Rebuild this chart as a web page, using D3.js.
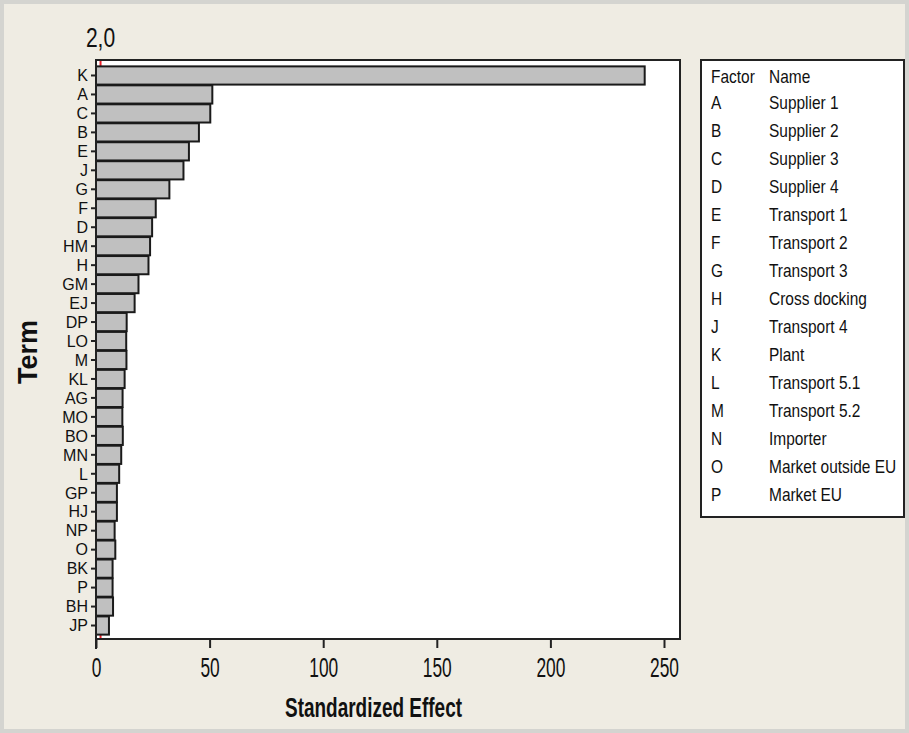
<!DOCTYPE html>
<html>
<head>
<meta charset="utf-8">
<script src="https://cdn.jsdelivr.net/npm/d3@7"></script>
<style>
  body { margin: 0; background: #efece3; }
  svg { display: block; font-family: "Liberation Sans", Arial, sans-serif; }
</style>
</head>
<body>
<div class="container"></div>
<script>
const terms = ["K","A","C","B","E","J","G","F","D","HM","H","GM","EJ","DP","LO","M","KL","AG","MO","BO","MN","L","GP","HJ","NP","O","BK","P","BH","JP"],
    effects = [241.5, 51.2, 50.3, 45.3, 40.9, 38.5, 32.3, 26.3, 24.7, 23.8, 23.1, 18.7, 17.0, 13.5, 13.3, 13.4, 12.6, 11.7, 11.6, 11.8, 11.1, 10.2, 9.2, 9.2, 8.2, 8.5, 7.3, 7.3, 7.5, 5.7],
    xTicks = [0, 50, 100, 150, 200, 250],
    refValue = 2.0,
    refLabel = "2,0",
    factorCodes = ["A","B","C","D","E","F","G","H","J","K","L","M","N","O","P"],
    factorNames = ["Supplier 1","Supplier 2","Supplier 3","Supplier 4","Transport 1","Transport 2","Transport 3","Cross docking","Transport 4","Plant","Transport 5.1","Transport 5.2","Importer","Market outside EU","Market EU"];

const width = 909, height = 733;
const plot = {left: 96, right: 680, top: 60, bottom: 639};

const svg = d3.select('.container')
    .append('svg')
    .attr('width', width)
    .attr('height', height);

// background + outer frame
svg.append('rect').attr('width', width).attr('height', height).attr('fill', '#efece3');
svg.append('rect').attr('x', 2).attr('y', 2).attr('width', width - 4).attr('height', height - 4)
    .attr('fill', 'none').attr('stroke', '#d4d4d0').attr('stroke-width', 4);

// plot area
svg.append('rect')
    .attr('x', plot.left).attr('y', plot.top)
    .attr('width', plot.right - plot.left).attr('height', plot.bottom - plot.top)
    .attr('fill', '#fff').attr('stroke', '#222').attr('stroke-width', 2);

const xScale = d3.scaleLinear()
    .domain([0, 250])
    .range([plot.left, 664]);

const yScale = d3.scaleBand()
    .domain(terms)
    .range([66, 635])
    .paddingInner(0.04)
    .paddingOuter(0.02);

// reference line (mostly hidden behind bars)
svg.append('line')
    .attr('x1', xScale(refValue)).attr('x2', xScale(refValue))
    .attr('y1', plot.top + 1).attr('y2', plot.bottom - 1)
    .attr('stroke', '#e8202a').attr('stroke-width', 2);

svg.append('text')
    .attr('x', 0).attr('y', 0)
    .attr('transform', `translate(${xScale(refValue)},47) scale(0.78,1)`)
    .attr('text-anchor', 'middle')
    .attr('font-size', 27)
    .attr('fill', '#111')
    .text(refLabel);

// bars
svg.append('g').selectAll('rect')
    .data(terms)
    .join('rect')
    .attr('x', xScale(0))
    .attr('y', d => yScale(d))
    .attr('width', (d, i) => xScale(effects[i]) - xScale(0))
    .attr('height', yScale.bandwidth())
    .attr('fill', '#c0c0c0')
    .attr('stroke', '#1a1a1a')
    .attr('stroke-width', 2);

// axes
const xAxis = d3.axisBottom(xScale).tickValues(xTicks).tickSize(9).tickPadding(9);
const yAxis = d3.axisLeft(yScale).tickSize(5).tickPadding(2);

const gx = svg.append('g')
    .attr('transform', `translate(0,${plot.bottom})`)
    .call(xAxis);
gx.select('.domain').attr('d', `M${plot.left},0H${plot.right}`).attr('stroke', '#222').attr('stroke-width', 2);
gx.selectAll('.tick line').attr('stroke', '#222').attr('stroke-width', 2);
gx.selectAll('.tick text')
    .attr('font-size', 28)
    .attr('fill', '#111')
    .attr('font-family', '"Liberation Sans", Arial, sans-serif')
    .attr('transform', 'scale(0.62,1)');

const gy = svg.append('g')
    .attr('transform', `translate(${plot.left},0)`)
    .call(yAxis);
gy.select('.domain').attr('d', `M0,${plot.top}V${plot.bottom + 10}`).attr('stroke', '#222').attr('stroke-width', 2);
gy.selectAll('.tick line').attr('stroke', '#222').attr('stroke-width', 2);
gy.selectAll('.tick text')
    .attr('font-size', 16)
    .attr('fill', '#111')
    .attr('font-family', '"Liberation Sans", Arial, sans-serif')
    .attr('dy', '0.36em')
    .attr('x', -8);

// axis titles
svg.append('text')
    .attr('x', 285).attr('y', 717)
    .attr('textLength', 177)
    .attr('lengthAdjust', 'spacingAndGlyphs')
    .attr('font-size', 27)
    .attr('font-weight', 'bold')
    .attr('fill', '#111')
    .text('Standardized Effect');

svg.append('text')
    .attr('transform', 'translate(37,352) rotate(-90)')
    .attr('text-anchor', 'middle')
    .attr('font-size', 27)
    .attr('font-weight', 'bold')
    .attr('fill', '#111')
    .text('Term');

// legend
const legend = svg.append('g');
legend.append('rect')
    .attr('x', 701).attr('y', 60).attr('width', 203).attr('height', 457)
    .attr('fill', '#fff').attr('stroke', '#222').attr('stroke-width', 2);

const rowY = i => 103 + i * 28;
const legendText = (x, y, t) => legend.append('text')
    .attr('x', 0).attr('y', 0)
    .attr('transform', `translate(${x},${y}) scale(0.86,1)`)
    .attr('font-size', 18)
    .attr('fill', '#111')
    .attr('dy', '0.35em')
    .text(t);

legendText(711, 77, 'Factor');
legendText(769, 77, 'Name');
factorCodes.forEach((c, i) => {
    legendText(711, rowY(i), c);
    legendText(769, rowY(i), factorNames[i]);
});
</script>
</body>
</html>
